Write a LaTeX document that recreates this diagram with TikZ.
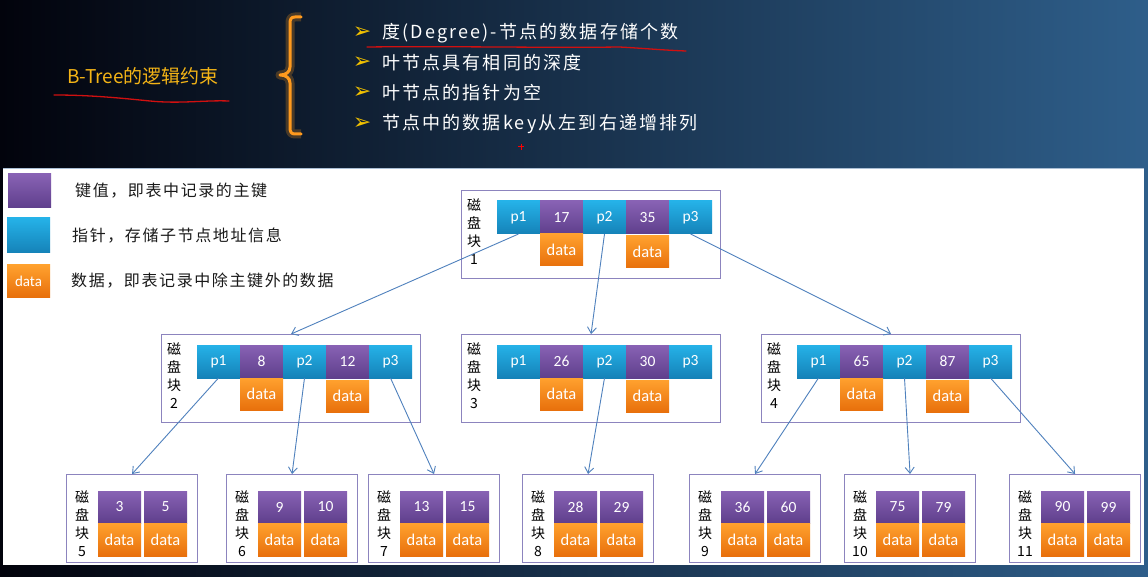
\documentclass[tikz,border=0pt]{standalone}
\usepackage{fontspec}
\setmainfont{Noto Sans CJK SC}
\newfontfamily\cjk{Noto Sans CJK SC}
\newfontfamily\cjksp[LetterSpace=12]{Noto Sans CJK SC}
\newfontfamily\cjklg[LetterSpace=10]{Noto Sans CJK SC}
\newfontfamily\cellf{Carlito}
\newfontfamily\symf{DejaVu Sans}
\usetikzlibrary{arrows.meta}
\definecolor{bgL}{HTML}{02030C}
\definecolor{bgM}{HTML}{0B1838}
\definecolor{bgR}{HTML}{2E5E8A}
\definecolor{keyT}{HTML}{8862B4}
\definecolor{keyB}{HTML}{5F3F8C}
\definecolor{ptrT}{HTML}{25B2E8}
\definecolor{ptrB}{HTML}{1582B8}
\definecolor{datT}{HTML}{FFA12E}
\definecolor{datB}{HTML}{E8700C}
\definecolor{blkc}{HTML}{8C84BE}
\definecolor{arrc}{HTML}{4F81BD}
\definecolor{titc}{HTML}{F4B416}
\definecolor{brc}{HTML}{FF9A1E}
\definecolor{bulc}{HTML}{F2C200}
\definecolor{ulc}{HTML}{D01010}
\definecolor{legc}{HTML}{1A1A1A}
\definecolor{pnlc}{HTML}{AABED4}
\tikzset{
  cell/.style={anchor=north west, inner sep=0pt, outer sep=0pt, minimum width=43pt, minimum height=33pt, text=white, font=\cellf\fontsize{15.5}{15.5}\selectfont},
  kc/.style={cell, top color=keyT, bottom color=keyB},
  pc/.style={cell, top color=ptrT, bottom color=ptrB},
  dc/.style={cell, minimum height=32pt, top color=datT, bottom color=datB, font=\cellf\fontsize{16.5}{16.5}\selectfont},
  blk/.style={draw=blkc, line width=1.1pt, anchor=north west, inner sep=0pt, fill=white},
  lbl/.style={anchor=north, align=center, inner sep=0pt, font=\cjk\fontsize{14}{18}\selectfont, text=black},
  conn/.style={draw=arrc, line width=0.9pt, -{Straight Barb[length=6pt,width=9pt]}},
  legt/.style={anchor=west, inner sep=0pt, text=legc, font=\cjklg\fontsize{16}{16}\selectfont},
  htext/.style={anchor=west, inner sep=0pt, text=white, font=\cjksp\fontsize{18}{18}\selectfont},
  bul/.style={inner sep=0pt, text=bulc, font=\symf\fontsize{22}{22}\selectfont},
  redline/.style={draw=ulc, line width=1.3pt, line cap=round},
}
\newcommand\innerblk[7]{%
  \begin{scope}[shift={(#2,#3)}]
    \node[blk, minimum width=259pt, minimum height=88pt] (#1) at (0,0) {};
    \node[lbl] (#1-l) at (13,9) {磁\\盘\\块\\#4};
    \node[pc] (#1-p1) at (36,11) {p1};
    \node[kc] (#1-k1) at (79,11) {#5};
    \node[pc] (#1-p2) at (122,11) {p2};
    \node[kc] (#1-k2) at (165,11) {#6};
    \node[pc] (#1-p3) at (208,11) {p3};
    \node[dc] (#1-d1) at (79,44) {data};
    \node[dc] (#1-d2) at (165,#7) {data};
  \end{scope}}
\newcommand\leafblk[6]{%
  \begin{scope}[shift={(#2,#3)}]
    \node[blk, minimum width=131pt, minimum height=88pt] (#1) at (0,0) {};
    \node[lbl] (#1-l) at (16,17) {磁\\盘\\块\\#4};
    \node[kc, minimum height=32pt] (#1-k1) at (32,17) {#5};
    \node[kc, minimum height=32pt] (#1-k2) at (78,17) {#6};
    \node[dc, minimum height=33pt] (#1-d1) at (32,49) {data};
    \node[dc, minimum height=33pt] (#1-d2) at (78,49) {data};
  \end{scope}}
\begin{document}
\begin{tikzpicture}[x=1pt,y=-1pt]
\useasboundingbox (0,0) rectangle (1148,577);
% background
\shade[left color=bgL, middle color=bgM, right color=bgR] (0,0) rectangle (1148,577);
\fill[white] (3,168) rectangle (1144,565);
\draw[draw=pnlc, line width=0.8pt] (3,168) -- (1144,168);
% header
\node[inner sep=0pt, anchor=west, text=titc, font=\cjk\fontsize{19}{19}\selectfont] (title) at (67,76) {B-Tree的逻辑约束};
\draw[redline] (54,95) .. controls (90,95) and (120,98) .. (150,101) .. controls (180,104) and (205,100) .. (229,101);
\draw[draw=brc, line width=3pt, line cap=round, line join=round, preaction={draw=brc, line width=9pt, opacity=0.25, line join=round}]
  (301,17) -- (295,17) .. controls (291,17) and (290,19) .. (290,24) -- (290,67)
  .. controls (290,72) and (286,75) .. (280,75) .. controls (286,75) and (290,78) .. (290,83)
  -- (290,127) .. controls (290,132) and (291,134) .. (295,134) -- (301,134);
\node[bul] (b1) at (362,33) {➢};
\node[bul] (b2) at (362,63) {➢};
\node[bul] (b3) at (362,93) {➢};
\node[bul] (b4) at (362,124) {➢};
\node[htext] (t1) at (382,33) {度(Degree)-节点的数据存储个数};
\node[htext] (t2) at (382,63) {叶节点具有相同的深度};
\node[htext] (t3) at (382,93) {叶节点的指针为空};
\node[htext] (t4) at (382,124) {节点中的数据key从左到右递增排列};
\draw[redline] (367,47) .. controls (450,46) and (550,48) .. (619,47) .. controls (640,48) and (660,50) .. (686,51);
\draw[draw=red, line width=1pt] (518,147) -- (524,147) (521,144) -- (521,150);
% legend
\node[kc, minimum height=34pt] (lgk) at (8,174) {};
\node[pc, minimum height=35pt] (lgp) at (7,218) {};
\node[dc, font=\cellf\fontsize{15}{15}\selectfont] (lgd) at (7,265) {data};
\node[legt] (lgkt) at (75,191) {键值，即表中记录的主键};
\node[legt] (lgpt) at (72,236) {指针，存储子节点地址信息};
\node[legt] (lgdt) at (71,281) {数据，即表记录中除主键外的数据};
% blocks
\innerblk{n1}{461}{190}{1}{17}{35}{46}
\innerblk{n2}{161}{334}{2}{8}{12}{46}
\innerblk{n3}{461}{334}{3}{26}{30}{46}
\innerblk{n4}{761}{334}{4}{65}{87}{46}
\leafblk{n5}{66}{474}{5}{3}{5}
\leafblk{n6}{226}{474}{6}{9}{10}
\leafblk{n7}{368}{474}{7}{13}{15}
\leafblk{n8}{522}{474}{8}{28}{29}
\leafblk{n9}{689}{474}{9}{36}{60}
\leafblk{n10}{844}{474}{10}{75}{79}
\leafblk{n11}{1009}{474}{11}{90}{99}
% connectors
\draw[conn] (n1-p1.south) -- (n2.north);
\draw[conn] (n1-p2.south) -- (n3.north);
\draw[conn] (n1-p3.south) -- (n4.north);
\draw[conn] (n2-p1.south) -- (n5.north);
\draw[conn] (n2-p2.south) -- (n6.north);
\draw[conn] (n2-p3.south) -- (n7.north);
\draw[conn] (n3-p2.south) -- (n8.north);
\draw[conn] (n4-p1.south) -- (n9.north);
\draw[conn] (n4-p2.south) -- (n10.north);
\draw[conn] (n4-p3.south) -- (n11.north);
\end{tikzpicture}
\end{document}
